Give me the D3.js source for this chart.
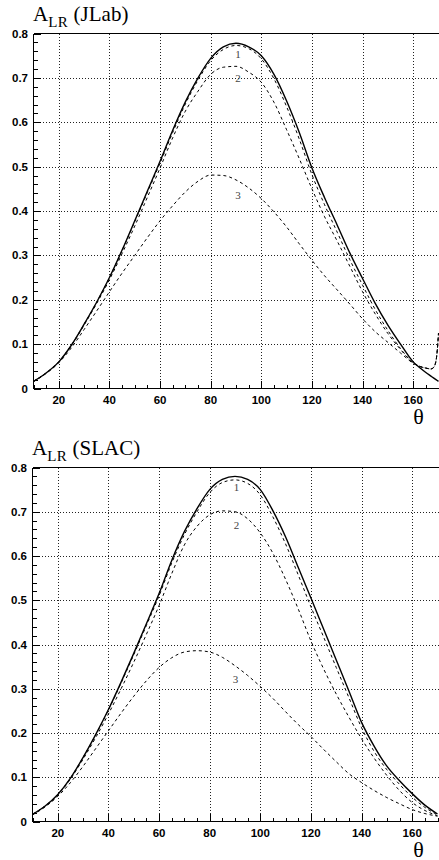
<!DOCTYPE html>
<html><head><meta charset="utf-8">
<script src="https://cdn.jsdelivr.net/npm/d3@7"></script>
<style>
html,body{margin:0;padding:0;background:#fff;}
svg{display:block;}
</style></head>
<body>
<svg id="chart" width="439" height="860"></svg>
<script>
// ---------- DATA ----------
const thetaJLab = [10,15,20,25,30,35,40,45,50,55,60,65,70,75,80,85,90,95,100,105,110,115,120,125,130,135,140,145,150,155,160,163,165,167,168,169,169.5,170];
const jlabSolid = [0.016,0.035,0.060,0.098,0.145,0.195,0.250,0.312,0.378,0.445,0.512,0.582,0.646,0.700,0.744,0.770,0.778,0.770,0.750,0.708,0.648,0.577,0.497,0.430,0.368,0.305,0.248,0.192,0.143,0.100,0.060,0.045,0.036,0.028,0.024,0.020,0.018,0.016];
const jlabCurve1 = [0.016,0.035,0.060,0.098,0.145,0.195,0.250,0.311,0.376,0.442,0.508,0.577,0.641,0.695,0.739,0.764,0.773,0.766,0.743,0.698,0.635,0.562,0.482,0.414,0.352,0.290,0.233,0.178,0.131,0.090,0.058,0.049,0.046,0.044,0.047,0.062,0.085,0.125];
const jlabCurve2 = [0.016,0.035,0.060,0.097,0.143,0.192,0.245,0.304,0.366,0.431,0.497,0.565,0.625,0.670,0.708,0.724,0.726,0.713,0.690,0.645,0.583,0.518,0.450,0.387,0.332,0.275,0.218,0.168,0.124,0.088,0.057,0.049,0.046,0.044,0.047,0.062,0.085,0.125];
const jlabCurve3 = [0.016,0.034,0.058,0.092,0.133,0.175,0.218,0.260,0.300,0.340,0.378,0.412,0.443,0.467,0.481,0.480,0.470,0.452,0.428,0.398,0.364,0.326,0.289,0.254,0.222,0.190,0.157,0.128,0.104,0.080,0.057,0.049,0.046,0.044,0.047,0.062,0.085,0.125];

const thetaSLAC = [10,15,20,25,30,35,40,45,50,55,60,65,70,75,80,85,90,95,100,105,110,115,120,125,130,135,140,145,150,155,160,165,170];
const slacSolid  = [0.016,0.035,0.061,0.098,0.145,0.197,0.253,0.315,0.380,0.447,0.515,0.590,0.655,0.707,0.750,0.773,0.780,0.773,0.750,0.702,0.643,0.574,0.505,0.435,0.365,0.295,0.224,0.170,0.125,0.092,0.063,0.037,0.017];
const slacCurve1 = [0.016,0.035,0.061,0.098,0.145,0.196,0.252,0.313,0.377,0.443,0.510,0.584,0.648,0.700,0.743,0.766,0.772,0.764,0.738,0.688,0.627,0.557,0.485,0.417,0.348,0.280,0.212,0.158,0.117,0.084,0.055,0.032,0.015];
const slacCurve2 = [0.016,0.035,0.060,0.096,0.141,0.190,0.243,0.300,0.360,0.423,0.488,0.560,0.625,0.667,0.693,0.702,0.700,0.684,0.652,0.606,0.547,0.480,0.408,0.345,0.288,0.236,0.187,0.143,0.104,0.070,0.043,0.025,0.013];
const slacCurve3 = [0.015,0.033,0.057,0.088,0.125,0.165,0.205,0.245,0.283,0.318,0.348,0.370,0.383,0.386,0.383,0.371,0.352,0.330,0.305,0.278,0.248,0.219,0.192,0.163,0.135,0.108,0.088,0.070,0.054,0.040,0.027,0.018,0.012];

const yTickValues = [0,0.1,0.2,0.3,0.4,0.5,0.6,0.7,0.8];
const yTickLabels = ["0","0.1","0.2","0.3","0.4","0.5","0.6","0.7","0.8"];
const xTickValues = [20,40,60,80,100,120,140,160];
const xTickLabels = ["20","40","60","80","100","120","140","160"];
const panelTitles = ["(JLab)","(SLAC)"];
const curveNames = ["1","2","3"];
// label anchor points in data coordinates (theta, asymmetry)
const jlabLabelTheta = [90.8, 90.8, 90.8];
const jlabLabelValue = [0.745, 0.690, 0.428];
const slacLabelTheta = [90.6, 90.6, 90.2];
const slacLabelValue = [0.748, 0.660, 0.312];

// ---------- DRAW ----------
const svg = d3.select("#chart");

function drawPanel(cfg) {
  const x = d3.scaleLinear().domain([10,170]).range([cfg.left, cfg.right]);
  const y = d3.scaleLinear().domain([0,0.8]).range([cfg.bottom, cfg.top]);
  const g = svg.append("g");

  // grid
  const grid = g.append("g").attr("stroke","#222").attr("stroke-width",1)
      .attr("stroke-dasharray","1,2").attr("shape-rendering","crispEdges");
  xTickValues.forEach(t => {
    const px = Math.round(x(t)) + 0.5;
    grid.append("line").attr("x1",px).attr("x2",px).attr("y1",cfg.top).attr("y2",cfg.bottom);
  });
  yTickValues.slice(1,8).forEach(v => {
    const py = Math.round(y(v)) + 0.5;
    grid.append("line").attr("x1",cfg.left).attr("x2",439).attr("y1",py).attr("y2",py);
  });

  // axes via d3 axis generators (ticks inside)
  const yMinor = d3.range(0, 0.8001, 0.02);
  const yAxisMinor = d3.axisRight(y).tickValues(yMinor).tickSize(4).tickFormat("");
  const yAxisMajor = d3.axisRight(y).tickValues(yTickValues).tickSize(7).tickFormat("");
  [yAxisMinor, yAxisMajor].forEach(ax => {
    const ga = g.append("g").attr("transform",`translate(${cfg.left},0)`).call(ax);
    ga.select(".domain").remove();
    ga.selectAll("line").attr("stroke","#000").attr("shape-rendering","crispEdges");
  });
  const xMinor = d3.range(10, 170.001, 5);
  const xAxisMinor = d3.axisTop(x).tickValues(xMinor).tickSize(4).tickFormat("");
  const xAxisMajor = d3.axisTop(x).tickValues(xTickValues).tickSize(8).tickFormat("");
  [xAxisMinor, xAxisMajor].forEach(ax => {
    const ga = g.append("g").attr("transform",`translate(0,${cfg.bottom})`).call(ax);
    ga.select(".domain").remove();
    ga.selectAll("line").attr("stroke","#000").attr("shape-rendering","crispEdges");
  });

  // frame lines
  const fr = g.append("g").attr("stroke","#000").attr("stroke-width",1).attr("shape-rendering","crispEdges");
  fr.append("line").attr("x1",cfg.left).attr("x2",cfg.left).attr("y1",cfg.top).attr("y2",cfg.bottom);
  fr.append("line").attr("x1",cfg.left).attr("x2",439).attr("y1",cfg.bottom).attr("y2",cfg.bottom);
  fr.append("line").attr("x1",cfg.left).attr("x2",439).attr("y1",cfg.top).attr("y2",cfg.top);

  // tick labels
  const lab = g.append("g").attr("font-family","'Liberation Sans', Arial, sans-serif")
      .attr("font-weight","bold").attr("font-size","11.5px").attr("fill","#000");
  yTickValues.forEach((v,i) => {
    lab.append("text").attr("x",cfg.left-5.5).attr("y",y(v)+4)
      .attr("text-anchor","end").text(yTickLabels[i]);
  });
  xTickValues.forEach((t,i) => {
    lab.append("text").attr("x",x(t)).attr("y",cfg.bottom+15)
      .attr("text-anchor","middle").text(xTickLabels[i]);
  });

  // curves
  const line = d3.line().x(d => x(d[0])).y(d => y(d[1])).curve(d3.curveMonotoneX);
  const cg = g.append("g").attr("fill","none").attr("stroke","#000");
  cfg.dashed.forEach(vals => {
    cg.append("path").attr("d", line(cfg.theta.map((t,i)=>[t,vals[i]])))
      .attr("stroke-width",1).attr("stroke-dasharray","3,3");
  });
  cg.append("path").attr("d", line(cfg.theta.map((t,i)=>[t,cfg.solid[i]])))
    .attr("stroke-width",1.4);

  // curve labels
  const cl = g.append("g").attr("font-family","'Liberation Serif','Times New Roman',serif")
      .attr("font-size","11px").attr("fill","#444").attr("text-anchor","middle");
  curveNames.forEach((n,i) => {
    cl.append("text").attr("x",x(cfg.labelTheta[i])).attr("y",y(cfg.labelValue[i])).text(n);
  });

  // title
  const tt = g.append("text").attr("x",cfg.left-0.5).attr("y",cfg.top-12.5)
    .attr("font-family","'Liberation Serif','Times New Roman',serif").attr("font-size","21px").attr("fill","#000");
  tt.append("tspan").text("A");
  tt.append("tspan").attr("font-size","15px").attr("dy",6).attr("letter-spacing","0.5px").text("LR");
  tt.append("tspan").attr("dy",-6).text(" " + cfg.title);

  // theta label
  g.append("text").attr("x",418.5).attr("y",cfg.bottom+35)
    .attr("font-family","'Liberation Serif','Times New Roman',serif").attr("font-size","22px")
    .attr("text-anchor","middle").attr("fill","#000").text("θ");
}

drawPanel({left:33.5,right:438.5,top:33.5,bottom:388.5,theta:thetaJLab,solid:jlabSolid,
  dashed:[jlabCurve1,jlabCurve2,jlabCurve3],title:panelTitles[0],labelTheta:jlabLabelTheta,labelValue:jlabLabelValue});
drawPanel({left:32.5,right:437.5,top:467.5,bottom:821.5,theta:thetaSLAC,solid:slacSolid,
  dashed:[slacCurve1,slacCurve2,slacCurve3],title:panelTitles[1],labelTheta:slacLabelTheta,labelValue:slacLabelValue});
</script>
</body></html>
